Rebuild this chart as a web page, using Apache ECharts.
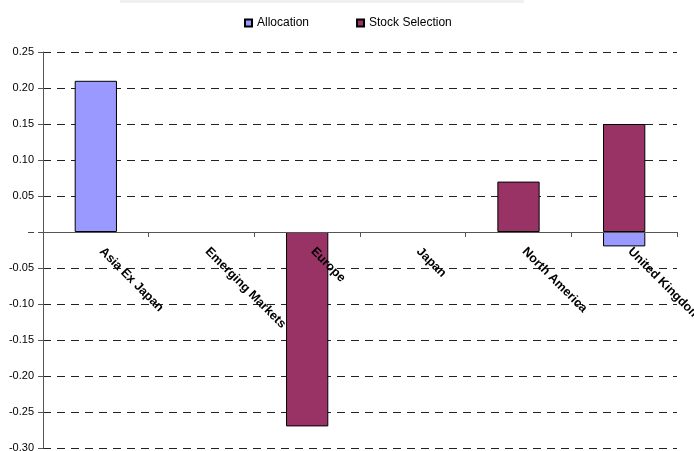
<!DOCTYPE html>
<html><head><meta charset="utf-8">
<script src="https://cdn.jsdelivr.net/npm/echarts@6/dist/echarts.min.js"></script>
<style>html,body{margin:0;padding:0;background:#fff}#c{width:694px;height:451px}</style>
</head><body><div id="c"></div>
<script>
const categories = ['Asia Ex Japan', 'Emerging Markets', 'Europe', 'Japan', 'North America', 'United Kingdom'];
const allocation = [0.21, null, null, null, null, -0.02];
const stockSelection = [null, null, -0.27, null, 0.07, 0.15];
const seriesNames = ['Allocation', 'Stock Selection'];
const colors = ['#9999FF', '#993366'];
const yMin = -0.3, yMax = 0.25, yStep = 0.05;

const gridTop = 52, gridBottom = 3, H = 451;
const plotH = H - gridTop - gridBottom;
const zeroFromBottom = plotH * (0 - yMin) / (yMax - yMin);

const chart = echarts.init(document.getElementById('c'), null, {renderer: 'canvas'});
const font = '"Liberation Sans", Arial, sans-serif';
chart.setOption({
  animation: false,
  textStyle: {fontFamily: font},
  graphic: [{type: 'rect', shape: {x: 120, y: 0, width: 404, height: 3}, style: {fill: '#eef1ee'}}],
  legend: {
    top: 17, left: 244, padding: 0, itemWidth: 7, itemHeight: 7, itemGap: 47,
    icon: 'rect',
    textStyle: {fontFamily: font, fontSize: 12, color: '#000'},
    data: seriesNames
  },
  grid: {left: 43, right: 17, top: gridTop, bottom: gridBottom, containLabel: false, outerBoundsMode: 'none'},
  xAxis: {
    type: 'category', data: categories, boundaryGap: true, z: 5,
    offset: -zeroFromBottom,
    axisLine: {onZero: false, lineStyle: {color: '#555', width: 1}},
    axisTick: {show: true, length: 5, inside: false, lineStyle: {color: '#555'}},
    axisLabel: {rotate: -45, fontSize: 12.5, fontWeight: 'bold', color: '#000', margin: 12, padding: [0, 0, 0, 8], fontFamily: font, interval: 0},
    splitLine: {show: false}
  },
  yAxis: {
    type: 'value', min: yMin, max: yMax, interval: yStep,
    axisLine: {show: true, lineStyle: {color: '#555', width: 1}},
    axisTick: {show: true, length: 5, lineStyle: {color: '#555'}},
    axisLabel: {fontSize: 11, color: '#000', margin: 9, fontFamily: font,
      formatter: v => Math.abs(v) < 1e-9 ? '–' : v.toFixed(2)},
    splitLine: {show: true, lineStyle: {color: '#222', type: [8, 6], width: 1}}
  },
  series: [
    {name: seriesNames[0], type: 'bar', stack: 's', data: allocation, barWidth: '40%',
     itemStyle: {color: colors[0], borderColor: '#000', borderWidth: 1}},
    {name: seriesNames[1], type: 'bar', stack: 's', data: stockSelection, barWidth: '40%',
     itemStyle: {color: colors[1], borderColor: '#000', borderWidth: 1}}
  ]
});
</script></body></html>
